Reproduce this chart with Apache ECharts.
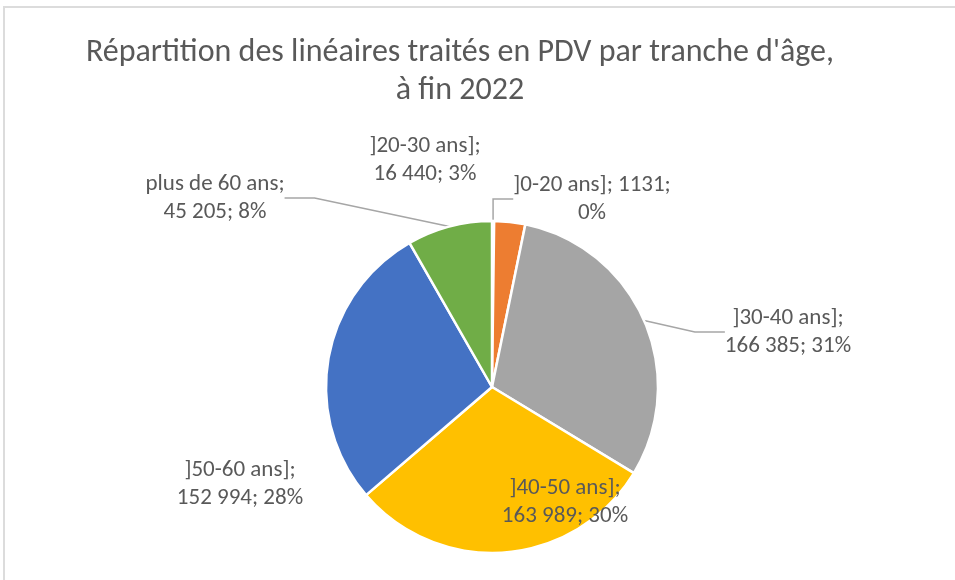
<!DOCTYPE html>
<html style="height: 100%">
<head>
    <meta charset="utf-8">
    <title>Répartition des linéaires</title>
    <script src="https://cdn.jsdelivr.net/npm/echarts@6/dist/echarts.min.js"></script>
</head>
<body style="height: 100%; margin: 0; background: #fff">

    <div id="frame" style="position: absolute; left: 3px; top: 6px; right: 0; bottom: 0; border-left: 2px solid #dcdcdc; border-top: 2px solid #dcdcdc"></div>
    <div id="main" style="position: absolute; left: 0; top: 0; width: 955px; height: 580px"></div>

<script type="text/javascript">
    // tranches d'âge, dans l'ordre du camembert (sens horaire depuis midi)
    var categories = [']0-20 ans]', ']20-30 ans]', ']30-40 ans]', ']40-50 ans]', ']50-60 ans]', 'plus de 60 ans'];
    var values = [1131, 16440, 166385, 163989, 152994, 45205];
    var colors = ['#5b9bd5', '#ed7d31', '#a5a5a5', '#ffc000', '#4472c4', '#70ad47'];

    // où poser chaque étiquette (centre du bloc de texte) et si elle a un trait
    var labelSpots = [[592, 199], [425, 160], [788, 332], [565, 502], [240, 484], [215, 198]];
    var withLine = [true, false, true, false, false, true];

    function fmtNum(v) {
        // Excel n'a pas mis d'espace dans 1131
        if (v < 10000) return String(v);
        return String(v).replace(/\B(?=(\d{3})+(?!\d))/g, ' ');
    }

    var myChart = echarts.init(document.getElementById('main'));

    var data = [];
    for (var i = 0; i < categories.length; i++) {
        data.push({
            name: categories[i],
            value: values[i],
            itemStyle: { color: colors[i] },
            labelLine: { show: withLine[i] }
        });
    }

    var option = {
        backgroundColor: 'transparent',
        title: {
            text: "Répartition des linéaires traités en PDV par tranche d'âge,\nà fin 2022",
            left: 455,
            top: 29,
            textAlign: 'center',
            textStyle: {
                color: '#595959',
                fontFamily: 'Carlito, "Liberation Sans", sans-serif',
                fontSize: 32,
                fontWeight: 'normal',
                lineHeight: 38
            }
        },
        series: [{
            type: 'pie',
            center: [492, 387],
            radius: 166,
            startAngle: 90,
            clockwise: true,
            percentPrecision: 0,
            avoidLabelOverlap: false,
            animation: false,
            itemStyle: {
                borderColor: '#fff',
                borderWidth: 2.5
            },
            label: {
                show: true,
                position: 'outside',
                color: '#595959',
                fontFamily: 'Carlito, "Liberation Sans", sans-serif',
                fontSize: 23,
                lineHeight: 28,
                align: 'center',
                formatter: function (p) {
                    if (p.dataIndex === 0) {
                        return p.name + '; ' + fmtNum(p.value) + ';\n' + p.percent + '%';
                    }
                    return p.name + ';\n' + fmtNum(p.value) + '; ' + p.percent + '%';
                }
            },
            labelLine: {
                show: true,
                lineStyle: { color: '#a6a6a6', width: 1.5 }
            },
            labelLayout: function (params) {
                var s = labelSpots[params.dataIndex];
                return { x: s[0], y: s[1], align: 'center', verticalAlign: 'middle' };
            },
            data: data
        }]
    };
    myChart.setOption(option);
</script>
</body>
</html>
